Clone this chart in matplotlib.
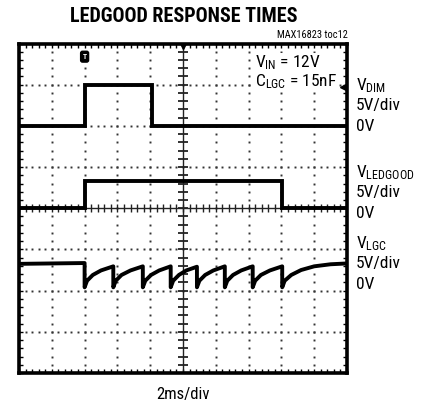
import matplotlib
matplotlib.use('Agg')
import matplotlib.pyplot as plt
import numpy as np

FONT = 'Roboto Condensed'
plt.rcParams['font.family'] = [FONT, 'DejaVu Sans']
plt.rcParams['mathtext.fontset'] = 'custom'
plt.rcParams['mathtext.rm'] = FONT
plt.rcParams['mathtext.it'] = FONT

# ---- data (time in ms, voltage in V) ----
t_dim = [0, 4.0, 4.0, 8.1, 8.1, 20]
v_dim = [0, 0, 5.0, 5.0, 0, 0]

t_ledgood = [0, 4.0, 4.0, 16.05, 16.05, 20]
v_ledgood = [0, 0, 3.3, 3.3, 0, 0]

t_lgc = [0, 2.0, 4.0,
         4.0, 4.15, 4.5, 5.0, 5.75,
         5.75, 5.9, 6.25, 6.8, 7.55,
         7.55, 7.7, 8.05, 8.55, 9.25,
         9.25, 9.4, 9.75, 10.2, 10.85,
         10.85, 11.0, 11.35, 11.85, 12.55,
         12.55, 12.7, 13.05, 13.55, 14.25,
         14.25, 14.4, 14.75, 15.3, 16.05,
         16.05, 16.2, 16.6, 17.2, 18.0, 19.0, 20.0]
v_lgc = [3.25, 3.3, 3.35,
         0.4, 1.2, 1.9, 2.45, 2.95,
         0.4, 1.2, 1.9, 2.45, 2.95,
         0.4, 1.2, 1.9, 2.45, 2.95,
         0.4, 1.2, 1.9, 2.45, 2.9,
         0.4, 1.2, 1.9, 2.45, 2.95,
         0.4, 1.2, 1.9, 2.45, 2.95,
         0.4, 1.2, 1.9, 2.45, 2.95,
         0.4, 1.2, 1.9, 2.5, 2.95, 3.2, 3.3]

channels = ['DIM', 'LEDGOOD', 'LGC']
ground_div = [2, 0, -2]   # 0V position of each channel in divisions
volts_per_div = 5.0

fig = plt.figure(figsize=(4.35, 4.04), dpi=100)
ax = fig.add_axes([19/435, 1-373/404, 328/435, (373-43.5)/404])
ax.set_xlim(0, 20)
ax.set_ylim(-4, 4)

# grid dots
minor_x = np.arange(0, 20.001, 0.4)
minor_y = np.arange(-4, 4.001, 0.2)
for gx in range(2, 20, 2):
    if gx == 10:
        continue
    ax.plot([gx]*len(minor_y), minor_y, ls='none', marker='s', ms=1.4, color='#333333', mew=0)
for gy in range(-3, 4):
    if gy == 0:
        continue
    ax.plot(minor_x, [gy]*len(minor_x), ls='none', marker='s', ms=1.4, color='#333333', mew=0)

# center cross
ax.axvline(10, color='#222222', lw=1.0)
ax.axhline(0, color='#222222', lw=1.0)
ax.plot(minor_x, [0]*len(minor_x), ls='none', marker='|', ms=6, mew=1.0, color='#222222')
ax.plot([10]*len(minor_y), minor_y, ls='none', marker='_', ms=7, mew=1.3, color='#222222')

# traces
def to_div(v, g):
    return [g + x / volts_per_div for x in v]

ax.plot(t_dim, to_div(v_dim, ground_div[0]), color='black', lw=2.8, solid_joinstyle='miter')
ax.plot(t_ledgood, to_div(v_ledgood, ground_div[1]), color='black', lw=2.8, solid_joinstyle='miter')
ax.plot(t_lgc, to_div(v_lgc, ground_div[2]), color='black', lw=2.8)

# ticks on border
ax.set_xticks(minor_x)
ax.set_yticks(minor_y)
ax.tick_params(direction='in', length=3, width=1, top=True, right=True,
               labelbottom=False, labelleft=False)
for s in ax.spines.values():
    s.set_linewidth(2.6)

# trigger marker
ax.text(4.0, 3.68, 'T', ha='center', va='center', fontsize=5.5, color='white', fontweight='bold',
        bbox=dict(boxstyle='round,pad=0.25', fc='black', ec='black'))
ax.plot([10], [3.93], marker='v', ms=4, color='black')
ax.plot([19.75], [2.95], marker='<', ms=4, color='black', clip_on=False)

# annotations inside
bb = dict(boxstyle='square,pad=0.05', fc='white', ec='none')
ax.text(14.4, 3.42, r'$\mathregular{V_{IN}}$ = 12V', fontsize=12.5, ha='left', va='baseline', bbox=bb)
ax.text(14.4, 2.95, r'$\mathregular{C_{LGC}}$ = 15nF', fontsize=12.5, ha='left', va='baseline', bbox=bb)

# right side labels
fs = 12.5
X = 356/435
def ylab(py):
    return 1 - py/404
for name, ytop in zip(channels, [90, 177, 248]):
    fig.text(X, ylab(ytop), r'$\mathregular{V_{%s}}$' % name, fontsize=fs, va='baseline', ha='left')
    fig.text(X, ylab(ytop + 20), '5V/div', fontsize=fs, va='baseline', ha='left')
    fig.text(X, ylab(ytop + 41), '0V', fontsize=fs, va='baseline', ha='left')

fig.text(183.5/435, ylab(22), 'LEDGOOD RESPONSE TIMES', fontsize=14.5, fontweight='bold',
         ha='center', va='baseline')
fig.text(348/435, ylab(38), 'MAX16823 toc12', fontsize=7.5, ha='right', va='baseline')
fig.text(183.5/435, ylab(399), '2ms/div', fontsize=12, ha='center', va='baseline')

fig.savefig('out.png', dpi=100)
